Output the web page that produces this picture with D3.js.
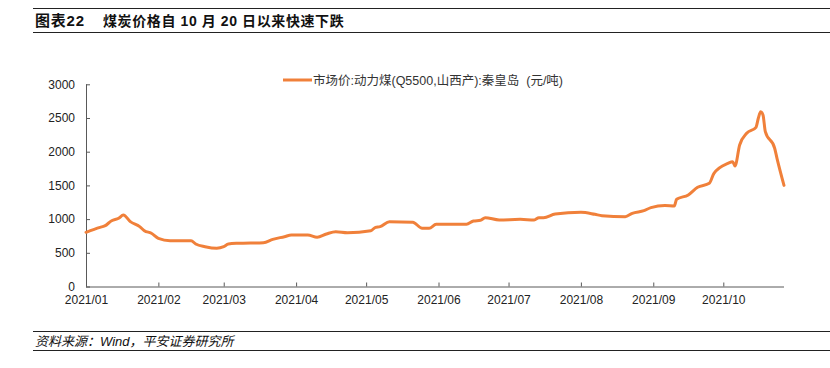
<!DOCTYPE html>
<html><head><meta charset="utf-8">
<script src="https://cdn.jsdelivr.net/npm/d3@7"></script>
<style>
html,body{margin:0;padding:0;background:#fff;}
svg{display:block;}
</style></head>
<body>
<svg id="chart" width="830" height="368"></svg>
<script>
const titleLabel = "图表22";
const titleText = "煤炭价格自 10 月 20 日以来快速下跌";
const sourceText = "资料来源：Wind，平安证券研究所";
const seriesName = "市场价:动力煤(Q5500,山西产):秦皇岛  (元/吨)";
const dates = ["2021-01-01","2021-01-07","2021-01-09","2021-01-12","2021-01-15","2021-01-17","2021-01-20","2021-01-24","2021-01-26","2021-01-29",
"2021-02-01","2021-02-06","2021-02-15","2021-02-17","2021-02-21","2021-02-26","2021-03-01","2021-03-03","2021-03-07","2021-03-18",
"2021-03-22","2021-03-27","2021-03-30","2021-04-06","2021-04-10","2021-04-14","2021-04-18","2021-04-23","2021-05-03","2021-05-05",
"2021-05-07","2021-05-11","2021-05-21","2021-05-25","2021-05-28","2021-05-31","2021-06-13","2021-06-16","2021-06-19","2021-06-21",
"2021-06-27","2021-07-06","2021-07-12","2021-07-14","2021-07-16","2021-07-21","2021-08-01","2021-08-07","2021-08-10","2021-08-20",
"2021-08-23","2021-08-28","2021-08-31","2021-09-06","2021-09-10","2021-09-11","2021-09-16","2021-09-20","2021-09-25","2021-09-27",
"2021-10-03","2021-10-05","2021-10-06","2021-10-08","2021-10-11","2021-10-15","2021-10-16","2021-10-17","2021-10-18","2021-10-19",
"2021-10-23","2021-10-24","2021-10-27"];
const values = [804,878,898,976,1012,1061,962,888,828,790,
715,680,680,631,591,567,591,631,641,650,
700,739,764,764,730,779,813,798,828,878,
888,962,953,864,864,923,923,972,982,1021,
987,997,987,1021,1021,1076,1101,1071,1051,1036,
1086,1125,1170,1200,1195,1294,1358,1472,1531,1680,
1828,1852,1788,2100,2273,2362,2496,2594,2545,2297,
2051,1902,1500];
const yTicks = [0,500,1000,1500,2000,2500,3000];
const xTickLabels = ["2021/01","2021/02","2021/03","2021/04","2021/05","2021/06","2021/07","2021/08","2021/09","2021/10"];

(function(){
const svg = d3.select("#chart");
const parse = d3.timeParse("%Y-%m-%d");
const data = dates.map((d,i)=>({date:parse(d), value:values[i]}));

const pL = 86, pR = 784, pT = 84.3, pB = 286.5;
const x = d3.scaleTime().domain([parse("2021-01-01"), parse("2021-10-27")]).range([pL, pR]);
const y = d3.scaleLinear().domain([0,3000]).range([pB, pT]);
const cjk = "'Liberation Sans','Noto Sans CJK SC',sans-serif";

// Header rules and title
svg.append("line").attr("x1",33).attr("x2",830).attr("y1",8.5).attr("y2",8.5).attr("stroke","#222").attr("stroke-width",1.2);
svg.append("line").attr("x1",33).attr("x2",830).attr("y1",32.5).attr("y2",32.5).attr("stroke","#222").attr("stroke-width",1.2);
svg.append("text").attr("x",35).attr("y",25.5).attr("font-family",cjk)
  .attr("font-size",15).attr("font-weight","bold").attr("fill","#111").attr("letter-spacing",0.8).text(titleLabel);
svg.append("text").attr("x",103).attr("y",25.5).attr("font-family",cjk)
  .attr("font-size",14).attr("font-weight","bold").attr("fill","#111").attr("letter-spacing",0.6).style("white-space","pre").text(titleText);

// Footer
svg.append("line").attr("x1",33).attr("x2",830).attr("y1",331.5).attr("y2",331.5).attr("stroke","#222").attr("stroke-width",1.2);
svg.append("line").attr("x1",33).attr("x2",830).attr("y1",350.5).attr("y2",350.5).attr("stroke","#222").attr("stroke-width",1.2);
svg.append("text").attr("x",35).attr("y",345.5).attr("font-family",cjk)
  .attr("font-size",13).attr("font-style","italic").attr("fill","#111").text(sourceText);

// Y axis
const yAxis = d3.axisLeft(y).tickValues(yTicks).tickSize(-4).tickPadding(11).tickFormat(d3.format("d"));
const gy = svg.append("g").attr("transform",`translate(${pL},0)`).call(yAxis);
gy.select(".domain").attr("stroke","#595959").attr("d",`M0.5,${pT}V${pB}`);
gy.selectAll(".tick line").attr("stroke","#595959");
gy.selectAll("text").attr("font-family","'Liberation Sans',Arial,sans-serif").attr("font-size",12).attr("fill","#222");

// X axis
const monthTicks = d3.timeMonth.range(parse("2021-01-01"), parse("2021-10-02"));
const xAxis = d3.axisBottom(x).tickValues(monthTicks).tickSize(-4).tickPadding(9)
  .tickFormat((d,i)=>xTickLabels[i]);
const gx = svg.append("g").attr("transform",`translate(0,${pB})`).call(xAxis);
gx.select(".domain").attr("stroke","#595959").attr("d",`M${pL},0.5H${pR}`);
gx.selectAll(".tick line").attr("stroke","#595959");
gx.selectAll("text").attr("font-family","'Liberation Sans',Arial,sans-serif").attr("font-size",12).attr("fill","#222");

// Line
const line = d3.line().x(d=>x(d.date)).y(d=>y(d.value)).curve(d3.curveMonotoneX);
svg.append("path").datum(data).attr("d",line).attr("fill","none").attr("stroke","#F0803A")
  .attr("stroke-width",3).attr("stroke-linejoin","round").attr("stroke-linecap","round");

// Legend
svg.append("line").attr("x1",283).attr("x2",312).attr("y1",80).attr("y2",80).attr("stroke","#F0803A").attr("stroke-width",3);
svg.append("text").attr("x",313).attr("y",84.5).attr("font-family",cjk)
  .attr("font-size",12.5).attr("fill","#333").style("white-space","pre").text(seriesName);
})();
</script>
</body></html>
